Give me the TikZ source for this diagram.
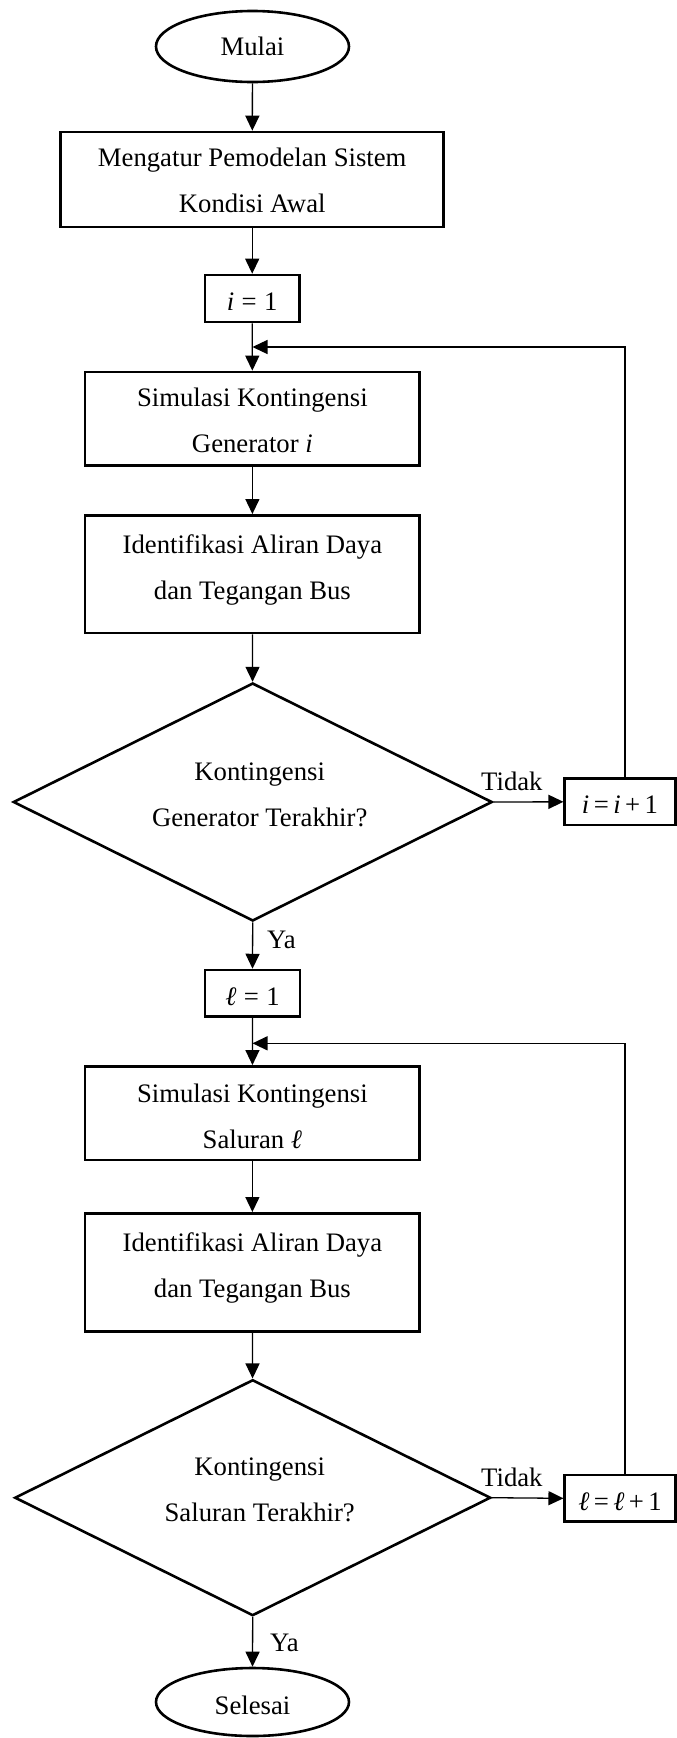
\documentclass[tikz,border=0pt]{standalone}
\usepackage{fontspec}
\setmainfont{Liberation Serif}
\usetikzlibrary{shapes.geometric,arrows.meta}
\begin{document}
\begin{tikzpicture}[x=1pt,y=-1pt,
  every node/.style={font=\fontsize{26.7}{46}\selectfont, inner sep=0pt},
  box/.style={draw, line width=2.6pt, rectangle, align=center},
  term/.style={draw, line width=2.6pt, ellipse},
  dec/.style={draw, line width=2.6pt, diamond, aspect=2, align=center},
  arr/.style={line width=1.3pt, -{Triangle[length=15pt,width=14pt]}},
  lbl/.style={anchor=base west}]
\fill[white] (0,0) rectangle (677,1738);
\useasboundingbox (0,0) rectangle (677,1738);

% nodes
\node[term, minimum width=193, minimum height=71] (start) at (252.5,46.5) {Mulai};
\node[box, minimum width=383, minimum height=95, text height=66.4pt, text depth=0pt] (setup) at (252.2,179.5) {Mengatur Pemodelan Sistem\\Kondisi Awal};
\node[box, minimum width=94.5, minimum height=47, text height=24pt, text depth=0pt] (i1) at (252.2,298.5) {\textit{i}\;=\;1};
\node[box, minimum width=334.7, minimum height=93.7, text height=67.8pt, text depth=0pt] (sim1) at (252.4,418.8) {Simulasi Kontingensi\\Generator \textit{i}};
\node[box, minimum width=334.7, minimum height=117.7, text height=49.6pt, text depth=0pt] (id1) at (252.4,574.2) {Identifikasi Aliran Daya\\dan Tegangan Bus};
\node[dec, minimum width=479, minimum height=238, text height=49.4pt, text depth=0pt] (d1) at (252.7,802) {\hspace*{14pt}Kontingensi\\\hspace*{14pt}Generator Terakhir?};
\node[box, minimum width=110.5, minimum height=46.3, text height=24pt, text depth=0pt] (inc1) at (620,801.8) {\textit{i}\,=\,\textit{i}\,+\,1};

\node[box, minimum width=95, minimum height=46.7, text height=24pt, text depth=0pt] (l1) at (252.5,993.4) {\textit{ℓ}\;=\;1};
\node[box, minimum width=334.7, minimum height=93.7, text height=70.2pt, text depth=0pt] (sim2) at (252.4,1113.2) {Simulasi Kontingensi\\Saluran \textit{ℓ}};
\node[box, minimum width=334.7, minimum height=118, text height=50.8pt, text depth=0pt] (id2) at (252.4,1272.3) {Identifikasi Aliran Daya\\dan Tegangan Bus};
\node[dec, minimum width=476, minimum height=236, text height=48pt, text depth=0pt] (d2) at (252.7,1497.7) {\hspace*{14pt}Kontingensi\\\hspace*{14pt}Saluran Terakhir?};
\node[box, minimum width=110.5, minimum height=46.7, text height=24pt, text depth=0pt] (inc2) at (620,1498.3) {\textit{ℓ}\,=\,\textit{ℓ}\,+\,1};
\node[term, minimum width=193, minimum height=68, text height=24pt, text depth=0pt] (stop) at (252.5,1702) {Selesai};

% labels
\node[lbl] (tidak1) at (481,790.7) {Tidak};
\node[lbl] (ya1) at (267,948.3) {Ya};
\node[lbl] (tidak2) at (481,1486) {Tidak};
\node[lbl] (ya2) at (270,1651.7) {Ya};

% feedback coordinates
\coordinate (j1) at (252.5,347);
\coordinate (k1) at (625,347);
\coordinate (j2) at (252.5,1043.3);
\coordinate (k2) at (625,1043.3);

% connectors
\draw[arr] (start) -- (setup);
\draw[arr] (setup) -- (i1);
\draw[arr] (i1) -- (sim1);
\draw[arr] (sim1) -- (id1);
\draw[arr] (id1) -- (d1);
\draw[arr] (d1.east) -- (inc1.west);
\draw[arr] (inc1.north -| k1) -- (k1) -- (j1);
\draw[arr] (d1.south) -- (l1.north);
\draw[arr] (l1) -- (sim2);
\draw[arr] (sim2) -- (id2);
\draw[arr] (id2) -- (d2);
\draw[arr] (d2.east) -- (inc2.west);
\draw[arr] (inc2.north -| k2) -- (k2) -- (j2);
\draw[arr] (d2.south) -- (stop.north);
\end{tikzpicture}
\end{document}
